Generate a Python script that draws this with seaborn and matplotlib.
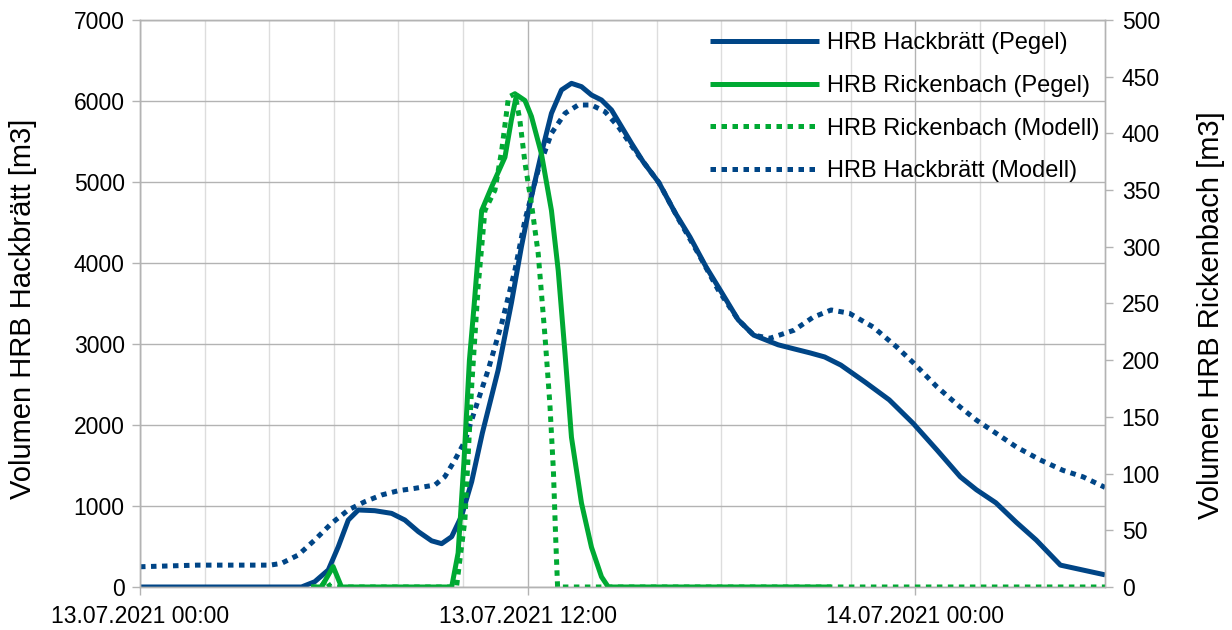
import matplotlib
matplotlib.use("Agg")
import matplotlib.pyplot as plt
import matplotlib.dates as mdates
import pandas as pd
import seaborn as sns

# Stunden ab 13.07.2021 00:00 und Volumen [m3]
start = pd.Timestamp("2021-07-13 00:00")

hack_pegel_h = [0, 5.0, 5.41, 5.83, 6.14, 6.45, 6.76, 7.27, 7.79, 8.2, 8.62, 9.03, 9.34,
                9.65, 9.96, 10.27, 10.6, 11.09, 11.5, 11.81, 12.12, 12.43, 12.74, 13.05,
                13.36, 13.67, 13.98, 14.29, 14.6, 14.91, 15.22, 15.58, 16.07, 16.57,
                17.03, 17.53, 18.02, 18.52, 19.0, 19.76, 20.25, 20.75, 21.2, 21.7, 22.45,
                23.2, 23.94, 24.68, 25.4, 25.9, 26.5, 27.13, 27.75, 28.5, 29.88]
hack_pegel_v = [0, 0, 65, 210, 498, 827, 951, 942, 909, 827, 683, 570, 535,
                621, 880, 1300, 1900, 2679, 3506, 4201, 4819, 5354, 5848, 6136,
                6218, 6177, 6074, 6012, 5889, 5683, 5477, 5250, 4990, 4620,
                4320, 3950, 3630, 3300, 3110, 2990, 2940, 2890, 2840, 2740, 2530,
                2310, 2020, 1690, 1360, 1200, 1040, 800, 580, 270, 150]

hack_modell_h = [0, 1.77, 4.03, 4.38, 4.9, 5.41, 5.93, 6.45, 6.96, 7.48, 8.0, 8.51, 9.13,
                 9.44, 9.75, 10.06, 10.37, 10.78, 11.2, 11.61, 11.92, 12.33, 12.74, 13.16,
                 13.57, 13.98, 14.4, 14.81, 15.17, 15.45, 16.07, 16.69, 17.28, 17.9, 18.52,
                 19.0, 19.5, 20.25, 20.84, 21.4, 21.96, 22.7, 23.44, 23.94, 24.68, 25.4,
                 25.9, 26.5, 27.13, 27.87, 28.58, 29.2, 29.88]
hack_modell_v = [250, 270, 270, 292, 395, 580, 786, 951, 1053, 1136, 1189, 1218, 1259,
                 1362, 1568, 1800, 2185, 2679, 3255, 3914, 4531, 5148, 5601, 5848,
                 5951, 5951, 5868, 5683, 5477, 5320, 4990, 4530, 4120, 3670, 3300,
                 3110, 3070, 3170, 3330, 3420, 3380, 3210, 2960, 2770, 2470, 2220,
                 2060, 1900, 1730, 1570, 1440, 1360, 1230]

rick_pegel_h = [5.3, 5.62, 5.98, 6.24, 9.65, 9.85, 10.03, 10.2, 10.35, 10.58, 10.89,
                11.3, 11.5, 11.66, 11.92, 12.12, 12.43, 12.74, 12.95, 13.16, 13.36,
                13.67, 13.98, 14.29, 14.5, 21.4]
rick_pegel_v = [0, 0, 18, 0, 0, 30, 110, 200, 250, 332, 353,
                379, 412, 434, 429, 415, 382, 332, 279, 206, 132,
                74, 35, 9, 0, 0]

rick_modell_h = [5.3, 5.6, 5.75, 5.9, 9.8, 10.06, 10.27, 10.47, 10.68, 10.99, 11.2,
                 11.41, 11.61, 11.76, 11.92, 12.12, 12.33, 12.54, 12.69, 12.8, 12.87,
                 12.93, 29.88]
rick_modell_v = [0, 0, 6, 0, 0, 59, 177, 265, 332, 350, 385,
                 432, 435, 412, 374, 338, 294, 221, 162, 103, 44,
                 0, 0]

labels = ["HRB Hackbrätt (Pegel)", "HRB Rickenbach (Pegel)",
          "HRB Rickenbach (Modell)", "HRB Hackbrätt (Modell)"]

BLUE = "#004586"
GREEN = "#00a933"
GRID = "#b3b3b3"
MINOR_GRID = "#dddddd"
DOTS = (0, (1.1, 1.1))
LW = 3.6


def series(hours, values):
    return pd.DataFrame({"zeit": start + pd.to_timedelta(hours, unit="h"),
                         "volumen": values})


sns.set_theme(style="white")
plt.rcParams["font.family"] = ["Liberation Sans", "DejaVu Sans"]
plt.rcParams["text.color"] = "black"
plt.rcParams["axes.labelcolor"] = "black"

fig = plt.figure(figsize=(12.32, 6.30), dpi=100)
ax = fig.add_axes([140 / 1232, 43 / 630, 965 / 1232, 567 / 630])
ax2 = ax.twinx()

line_kw = dict(lw=LW, solid_joinstyle="round", solid_capstyle="butt", legend=False)
sns.lineplot(data=series(hack_pegel_h, hack_pegel_v), x="zeit", y="volumen", ax=ax,
             color=BLUE, label=labels[0], **line_kw)
sns.lineplot(data=series(hack_modell_h, hack_modell_v), x="zeit", y="volumen", ax=ax,
             color=BLUE, linestyle=DOTS, dash_capstyle="butt",
             label=labels[3], **line_kw)
sns.lineplot(data=series(rick_pegel_h, rick_pegel_v), x="zeit", y="volumen", ax=ax2,
             color=GREEN, label=labels[1], **line_kw)
sns.lineplot(data=series(rick_modell_h, rick_modell_v), x="zeit", y="volumen", ax=ax2,
             color=GREEN, linestyle=DOTS, dash_capstyle="butt",
             label=labels[2], **line_kw)

for a in (ax, ax2):
    if a.get_legend() is not None:
        a.get_legend().remove()

# Axes ranges and ticks
ax.set_xlim(start, start + pd.Timedelta(hours=29.88))
ax.set_ylim(0, 7000)
ax2.set_ylim(0, 500)
ax.set_yticks(range(0, 7001, 1000))
ax2.set_yticks(range(0, 501, 50))
ax.xaxis.set_major_locator(mdates.HourLocator(byhour=[0, 12]))
ax.xaxis.set_minor_locator(mdates.HourLocator(byhour=range(0, 24, 2)))
ax.xaxis.set_major_formatter(mdates.DateFormatter("%d.%m.%Y %H:%M"))

ax.set_axisbelow(True)
ax.grid(which="major", axis="both", color=GRID, lw=1)
ax.grid(which="minor", axis="x", color=MINOR_GRID, lw=1)
ax2.grid(False)

ax.tick_params(axis="both", which="major", direction="out", length=6, width=1,
               color=GRID, labelsize=16.5, labelcolor="black", pad=5,
               bottom=True, left=True)
ax.tick_params(axis="x", which="major", pad=7)
ax.tick_params(axis="x", which="minor", length=0)
ax2.tick_params(axis="y", which="major", direction="out", length=6, width=1,
                color=GRID, labelsize=16.5, labelcolor="black", pad=6, right=True)

for a in (ax, ax2):
    for sp in a.spines.values():
        sp.set_color(GRID)
        sp.set_linewidth(1)

ax.set_xlabel("")
ax.set_ylabel("Volumen HRB Hackbrätt [m3]", fontsize=21)
ax2.set_ylabel("Volumen HRB Rickenbach [m3]", fontsize=21, rotation=90)
ax.yaxis.set_label_coords(-0.107, 0.49)
ax2.yaxis.set_label_coords(1.095, 0.48)

# Legend in the order of the series list
h1, l1 = ax.get_legend_handles_labels()
h2, l2 = ax2.get_legend_handles_labels()
lookup = dict(zip(l1 + l2, h1 + h2))
ax2.legend([lookup[l] for l in labels], labels, loc="upper left",
           bbox_to_anchor=(570 / 965, 0.978), frameon=False, fontsize=17,
           handlelength=4.6, handletextpad=0.34, labelspacing=0.87,
           borderpad=0, borderaxespad=0)

fig.savefig("out.png", dpi=100)
